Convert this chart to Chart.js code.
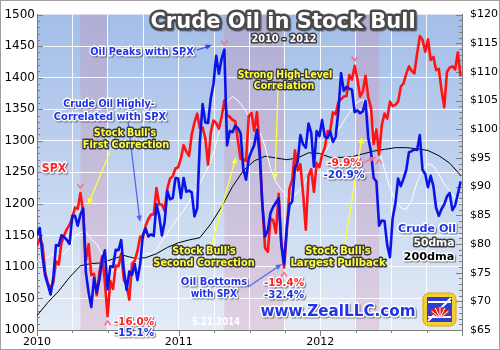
<!DOCTYPE html>
<html>
<head>
<meta charset="utf-8">
<script src="https://cdn.jsdelivr.net/npm/chart.js@4.4.1/dist/chart.umd.min.js"></script>
<style>
  html, body { margin: 0; padding: 0; background: #fff; }
  #wrap { width: 500px; height: 350px; }
</style>
</head>
<body>
<div id="wrap"><canvas id="c" width="500" height="350"></canvas></div>
<script>
// weekly closes, week 0 = first week of 2010
const SPX = [
  1133,1145,1136,1092,1074,1066,1075,1109,1104,1138,
  1150,1160,1167,1178,1194,1192,1217,1187,1110,1136,
  1087,1089,1055,1092,1117,1076,1022,1078,1065,1102,
  1101,1121,1079,1071,1048,1105,1110,1125,1148,1146,
  1165,1176,1183,1183,1225,1199,1199,1189,1224,1240,
  1244,1256,1258,
  1272,1293,1283,1276,1310,1329,1343,1320,1321,1304,
  1262,1313,1332,1328,1319,1337,1364,1340,1338,1333,
  1331,1300,1271,1271,1268,1339,1344,1316,1345,1292,
  1199,1130,1124,1177,1174,1154,1216,1136,1099,1155,
  1224,1238,1285,1253,1263,1216,1159,1244,1255,1219,
  1265,1258,
  1278,1289,1315,1316,1345,1342,1361,1366,1370,1371,
  1404,1397,1419,1398,1370,1378,1403,1369,1353,1295,
  1318,1278,1325,1343,1335,1362,1355,1357,1362,1386,
  1391,1406,1418,1411,1407,1438,1466,1460,1441,1461,
  1428,1433,1412,1414,1380,1353,1409,1416,1418,1413,
  1440,1402
];
const OIL = [
  81.5,82.8,78.0,74.5,72.9,71.2,74.1,79.8,79.7,81.5,
  81.2,80.7,80.0,84.9,84.9,83.2,85.1,86.2,75.1,71.6,
  69.0,74.0,71.5,73.8,77.2,78.9,72.1,76.1,76.0,79.0,
  78.9,80.7,75.4,72.0,75.2,74.6,76.5,73.7,76.5,81.6,
  82.7,81.3,81.7,81.4,86.9,84.9,81.5,83.8,89.2,87.8,
  88.0,91.5,91.4,
  88.0,91.5,89.1,89.3,89.0,84.8,86.2,97.9,104.4,101.2,
  101.1,105.4,107.9,112.8,109.7,112.3,113.9,97.2,99.7,99.5,
  100.6,100.2,99.3,93.0,91.2,94.9,96.2,97.2,99.9,95.7,
  86.9,81.3,82.3,85.4,86.5,87.2,88.0,79.9,76.5,83.0,
  86.8,87.4,93.3,94.3,99.0,97.4,96.8,101.0,99.4,93.5,
  99.7,98.8,
  101.6,98.7,98.5,99.6,97.8,98.7,103.2,109.8,106.7,107.4,
  107.1,106.9,103.0,103.3,102.8,103.1,104.9,98.5,96.1,91.5,
  90.9,83.2,84.1,84.0,79.8,77.7,84.5,87.1,91.4,90.1,
  91.4,92.9,96.0,96.2,96.5,96.4,99.0,92.9,92.2,89.9,
  91.9,90.1,86.3,84.9,86.1,86.9,88.3,88.9,85.9,86.7,
  88.7,90.8
];
// every 2 weeks
const OIL_50DMA = [
  76.9,77.3,77.7,78.2,78.3,78.3,79.5,81.5,82.0,82.2,
  80.8,80.0,78.2,77.0,75.3,75.2,76.3,77.0,77.4,77.7,
  78.4,78.3,79.0,80.5,81.8,83.3,84.6,85.8,87.4,89.0,
  90.5,92.4,94.3,97.5,101.5,104.8,105.7,105.0,103.8,102.3,
  100.8,99.6,97.0,93.2,90.8,89.5,88.3,88.2,89.0,90.2,
  91.8,93.0,94.5,96.0,97.5,99.2,100.6,102.2,103.4,104.8,
  105.2,103.5,100.5,96.5,93.0,89.8,87.6,86.3,86.0,87.6,
  90.8,93.0,94.0,93.6,92.2,90.5,89.2,88.0,87.6
];
// every 4 weeks
const OIL_200DMA = [
  67.5,69.8,71.8,74.2,76.2,76.6,76.7,77.4,78.0,77.5,
  77.6,78.3,79.4,80.2,80.7,81.1,83.5,86.5,90.0,92.8,
  94.5,95.3,95.0,94.7,95.0,95.9,95.8,95.1,95.1,95.2,
  95.7,96.2,96.5,96.8,96.8,96.6,96.3,95.4,94.1,92.0
];
const YEARS = ['2010', '2011', '2012'];
const LEFT_TICKS = [1000,1050,1100,1150,1200,1250,1300,1350,1400,1450,1500];
const RIGHT_TICKS = [65,70,75,80,85,90,95,100,105,110,115,120];
// stock corrections: [peak week, low week]
const CORRECTIONS = [[16, 26], [69, 91], [117, 126]];

const WPY = 365.25 / 7;
const QUARTERS = [];
for (let q = 0; q <= 12; q++) QUARTERS.push(q * WPY / 4);

const NOTES = [
  {t:'Oil Peaks with SPX', x:142, y:51, w:106, s:11, k:'blue'},
  {t:'Crude Oil Highly-', x:109, y:103, w:94, s:11, k:'blue'},
  {t:'Correlated with SPX', x:110, y:116, w:115, s:11, k:'blue'},
  {t:"Stock Bull's", x:125, y:132, w:65, s:11, k:'yellow'},
  {t:'First Correction', x:126, y:144, w:89, s:11, k:'yellow'},
  {t:'SPX', x:54, y:168, w:27, s:12, k:'red'},
  {t:'Strong High-Level', x:285, y:74, w:97, s:11, k:'yellow'},
  {t:'Correlation', x:284, y:85, w:63, s:11, k:'yellow'},
  {t:"Stock Bull's", x:204, y:250, w:66, s:11, k:'yellow'},
  {t:'Second Correction', x:204, y:262, w:104, s:11, k:'yellow'},
  {t:'Oil Bottoms', x:214, y:281, w:69, s:11, k:'blue'},
  {t:'with SPX', x:214, y:293, w:49, s:11, k:'blue'},
  {t:'-19.4%', x:284, y:282, w:43, s:11, k:'red'},
  {t:'-32.4%', x:284, y:294, w:43, s:11, k:'blue'},
  {t:'-16.0%', x:134, y:321, w:43, s:11, k:'red'},
  {t:'-15.1%', x:134, y:332, w:43, s:11, k:'blue'},
  {t:'-9.9%', x:344, y:162, w:37, s:11, k:'red'},
  {t:'-20.9%', x:344, y:174, w:44, s:11, k:'blue'},
  {t:"Stock Bull's", x:338, y:250, w:68, s:11, k:'yellow'},
  {t:'Largest Pullback', x:338, y:262, w:98, s:11, k:'yellow'},
  {t:'Crude Oil', x:427, y:228, w:61, s:11, k:'blue'},
  {t:'50dma', x:434, y:242, w:44, s:11, k:'white'},
  {t:'200dma', x:429, y:256, w:54, s:11, k:'black'},
  {t:'www.ZealLLC.com', x:338, y:310, w:158, s:16, k:'blue'},
  {t:'5.21.2014', x:216, y:321, w:48, s:10, k:'date'},
  {t:'Crude Oil in Stock Bull', x:283, y:20, w:270, s:22, k:'title'},
  {t:'2010 - 2012', x:284, y:38, w:68, s:10, k:'white'}
];
const ARROWS = [
  [197, 50, 212, 45, '#3344ee'],
  [128, 121, 140, 222, '#5566ee'],
  [110, 152, 88, 205, '#ffff33'],
  [278, 91, 275, 180, '#ffff33'],
  [212, 243, 236, 157, '#ffff33'],
  [248, 287, 282, 264, '#5566ee'],
  [345, 243, 362, 137, '#ffff33'],
  [362, 163, 376, 157, '#ff6677']
];

const STYLE = {
  blue:   {fill:'#1f33e8', stroke:'#ffffff', lw:3, shadow:true},
  yellow: {fill:'#ffff3c', stroke:'#3a3a3a', lw:3, shadow:false},
  red:    {fill:'#ff2222', stroke:'#ffffff', lw:3, shadow:true},
  white:  {fill:'#ffffff', stroke:'#404040', lw:3, shadow:false},
  black:  {fill:'#000000', stroke:'#ffffff', lw:3, shadow:true},
  date:   {fill:'#ffffff', stroke:null, lw:0, shadow:false},
  title:  {fill:'#ffffff', stroke:'#4a4a4a', lw:5, shadow:true}
};

function fitText(ctx, n) {
  const st = STYLE[n.k];
  ctx.save();
  ctx.font = 'bold ' + n.s + 'px "DejaVu Sans"';
  const m = ctx.measureText(n.t).width;
  ctx.translate(n.x, n.y + 0.36 * n.s);
  ctx.scale(n.w / (m + st.lw), 1);
  ctx.textAlign = 'center';
  ctx.textBaseline = 'alphabetic';
  ctx.lineJoin = 'round';
  if (st.shadow) {
    ctx.shadowColor = 'rgba(0,0,0,0.45)';
    ctx.shadowOffsetX = 1; ctx.shadowOffsetY = 1; ctx.shadowBlur = 1;
  }
  if (st.stroke) {
    ctx.strokeStyle = st.stroke;
    ctx.lineWidth = st.lw;
    ctx.strokeText(n.t, 0, 0);
  }
  ctx.shadowColor = 'rgba(0,0,0,0)';
  ctx.fillStyle = st.fill;
  ctx.fillText(n.t, 0, 0);
  ctx.restore();
}

function arrow(ctx, a) {
  const [x1, y1, x2, y2, col] = a;
  const ang = Math.atan2(y2 - y1, x2 - x1);
  ctx.save();
  ctx.strokeStyle = col; ctx.fillStyle = col; ctx.lineWidth = 1.3;
  ctx.beginPath(); ctx.moveTo(x1, y1); ctx.lineTo(x2 - 4 * Math.cos(ang), y2 - 4 * Math.sin(ang)); ctx.stroke();
  ctx.beginPath();
  ctx.moveTo(x2, y2);
  ctx.lineTo(x2 - 7 * Math.cos(ang - 0.4), y2 - 7 * Math.sin(ang - 0.4));
  ctx.lineTo(x2 - 7 * Math.cos(ang + 0.4), y2 - 7 * Math.sin(ang + 0.4));
  ctx.closePath(); ctx.fill();
  ctx.restore();
}

function caret(ctx, x, y, down) {
  const d = down ? 1 : -1;
  ctx.save();
  ctx.strokeStyle = '#ff6b80'; ctx.lineWidth = 1.5;
  ctx.beginPath();
  ctx.moveTo(x - 3, y - 3 * d); ctx.lineTo(x, y + 1 * d); ctx.lineTo(x + 3, y - 3 * d);
  ctx.stroke();
  ctx.restore();
}

function rrect(ctx, x, y, w, h, r) {
  ctx.beginPath();
  ctx.moveTo(x + r, y); ctx.arcTo(x + w, y, x + w, y + h, r); ctx.arcTo(x + w, y + h, x, y + h, r);
  ctx.arcTo(x, y + h, x, y, r); ctx.arcTo(x, y, x + w, y, r); ctx.closePath();
}

function logo(ctx) {
  ctx.save();
  rrect(ctx, 423, 293, 33, 33, 6);
  ctx.fillStyle = '#f6cf2a'; ctx.fill();
  ctx.strokeStyle = '#e0a010'; ctx.lineWidth = 1; ctx.stroke();
  ctx.fillStyle = '#2b3fd6';
  ctx.fillRect(427, 297, 25, 25);
  ctx.strokeStyle = '#ffffff'; ctx.lineWidth = 2;
  ctx.beginPath();
  ctx.moveTo(428, 302); ctx.lineTo(451, 302);
  ctx.moveTo(428, 317); ctx.lineTo(451, 317);
  ctx.moveTo(451, 298); ctx.lineTo(428, 321);
  ctx.stroke();
  ctx.fillStyle = '#e52222';
  ctx.beginPath(); ctx.moveTo(440, 318); ctx.arc(440, 318, 11, Math.PI * 1.15, Math.PI * 1.85); ctx.closePath(); ctx.fill();
  ctx.strokeStyle = '#ffffff'; ctx.lineWidth = 1;
  for (let i = 0; i < 5; i++) {
    const a = Math.PI * (1.22 + i * 0.14);
    ctx.beginPath(); ctx.moveTo(440, 318); ctx.lineTo(440 + 11 * Math.cos(a), 318 + 11 * Math.sin(a)); ctx.stroke();
  }
  ctx.restore();
}

const deco = {
  id: 'deco',
  beforeDraw(chart) {
    const ctx = chart.ctx, a = chart.chartArea, x = chart.scales.x;
    ctx.save();
    ctx.fillStyle = '#ffffff';
    ctx.fillRect(0, 0, chart.width, chart.height);
    const g = ctx.createLinearGradient(0, a.top, 0, a.bottom);
    g.addColorStop(0, '#a3bee8');
    g.addColorStop(0.5, '#c1d3ef');
    g.addColorStop(1, '#e4ecf7');
    ctx.fillStyle = g;
    ctx.fillRect(a.left, a.top, a.right - a.left, a.bottom - a.top);
    ctx.fillStyle = 'rgba(215,120,155,0.24)';
    CORRECTIONS.forEach(([p, l]) => {
      const x1 = x.getPixelForValue(p), x2 = x.getPixelForValue(l);
      ctx.fillRect(x1, a.top, x2 - x1, a.bottom - a.top);
    });
    ctx.restore();
  },
  beforeDatasetsDraw(chart) {
    const ctx = chart.ctx, a = chart.chartArea, y = chart.scales.y, y2 = chart.scales.y2, x = chart.scales.x;
    ctx.save();
    ctx.strokeStyle = '#808080'; ctx.lineWidth = 1;
    ctx.beginPath();
    for (let v = 1000; v <= 1500; v += 10) {
      const py = Math.round(y.getPixelForValue(v)) + 0.5;
      ctx.moveTo(a.left, py); ctx.lineTo(a.left + (v % 50 === 0 ? 6 : 3), py);
    }
    for (let v = 65; v <= 120; v += 1) {
      const py = Math.round(y2.getPixelForValue(v)) + 0.5;
      ctx.moveTo(a.right, py); ctx.lineTo(a.right - (v % 5 === 0 ? 6 : 3), py);
    }
    QUARTERS.forEach((q, i) => {
      const px = Math.round(x.getPixelForValue(q)) + 0.5;
      ctx.moveTo(px, a.bottom); ctx.lineTo(px, a.bottom + (i % 4 === 0 ? 6 : 3));
    });
    ctx.stroke();
    ctx.restore();
  },
  afterDraw(chart) {
    const ctx = chart.ctx, x = chart.scales.x, y = chart.scales.y, y2 = chart.scales.y2;
    CORRECTIONS.forEach(([p, l]) => {
      const px = x.getPixelForValue(p);
      const top = Math.min(y.getPixelForValue(SPX[p]), y2.getPixelForValue(OIL[p]));
      caret(ctx, px, top - 6, true);
      caret(ctx, x.getPixelForValue(l), y.getPixelForValue(SPX[l]) + 6, false);
    });
    ARROWS.forEach(a => arrow(ctx, a));
    NOTES.forEach(n => fitText(ctx, n));
    logo(ctx);
    ctx.save();
    ctx.strokeStyle = '#a0a0a0'; ctx.lineWidth = 1;
    ctx.strokeRect(0.5, 0.5, chart.width - 1, chart.height - 1);
    ctx.restore();
  }
};

const pts = (arr, step) => arr.map((v, i) => ({x: i * step, y: v}));

new Chart(document.getElementById('c'), {
  type: 'line',
  data: {
    datasets: [
      {label: 'Crude Oil', data: pts(OIL, 1), yAxisID: 'y2', borderColor: '#0a14e8', borderWidth: 2.6, order: 0},
      {label: 'SPX', data: pts(SPX, 1), yAxisID: 'y', borderColor: '#ff1414', borderWidth: 2.6, order: 1},
      {label: '50dma', data: pts(OIL_50DMA, 2), yAxisID: 'y2', borderColor: '#ffffff', borderWidth: 1, order: 2},
      {label: '200dma', data: pts(OIL_200DMA, 4), yAxisID: 'y2', borderColor: '#000000', borderWidth: 1, order: 3}
    ]
  },
  options: {
    responsive: false,
    animation: false,
    devicePixelRatio: 1,
    layout: {padding: {top: 7, left: 0, right: 0, bottom: 0}},
    elements: {point: {radius: 0}, line: {tension: 0, borderJoinStyle: 'round'}},
    plugins: {legend: {display: false}, tooltip: {enabled: false}},
    scales: {
      x: {
        type: 'linear', min: 0, max: 3 * WPY,
        afterBuildTicks: s => { s.ticks = QUARTERS.map(v => ({value: v})); },
        afterFit: s => { s.height = 20; },
        grid: {drawTicks: false, color: c => (c.index > 0 && c.index < 12) ? 'rgba(255,255,255,0.9)' : 'rgba(0,0,0,0)'},
        border: {color: '#7a7a7a'},
        ticks: {autoSkip: false, maxRotation: 0, padding: 6, color: '#000', font: {family: 'DejaVu Sans', size: 11},
          callback: (v, i) => (i % 4 === 0 && i < 12) ? YEARS[i / 4] : ''}
      },
      y: {
        position: 'left', min: 1000, max: 1500,
        afterBuildTicks: s => { s.ticks = LEFT_TICKS.map(v => ({value: v})); },
        afterFit: s => { s.width = 37; },
        grid: {drawTicks: false, color: c => (c.tick.value > 1000 && c.tick.value < 1500) ? 'rgba(255,255,255,0.9)' : 'rgba(0,0,0,0)'},
        border: {color: '#7a7a7a'},
        ticks: {padding: 2, color: '#000', font: {family: 'DejaVu Sans', size: 12}, callback: v => String(v)}
      },
      y2: {
        position: 'right', min: 65, max: 120,
        afterBuildTicks: s => { s.ticks = RIGHT_TICKS.map(v => ({value: v})); },
        afterFit: s => { s.width = 38; },
        grid: {drawTicks: false, drawOnChartArea: false},
        border: {color: '#7a7a7a'},
        ticks: {padding: 8, color: '#000', font: {family: 'DejaVu Sans', size: 11}, callback: v => '$' + v}
      }
    }
  },
  plugins: [deco]
});
</script>
</body>
</html>
